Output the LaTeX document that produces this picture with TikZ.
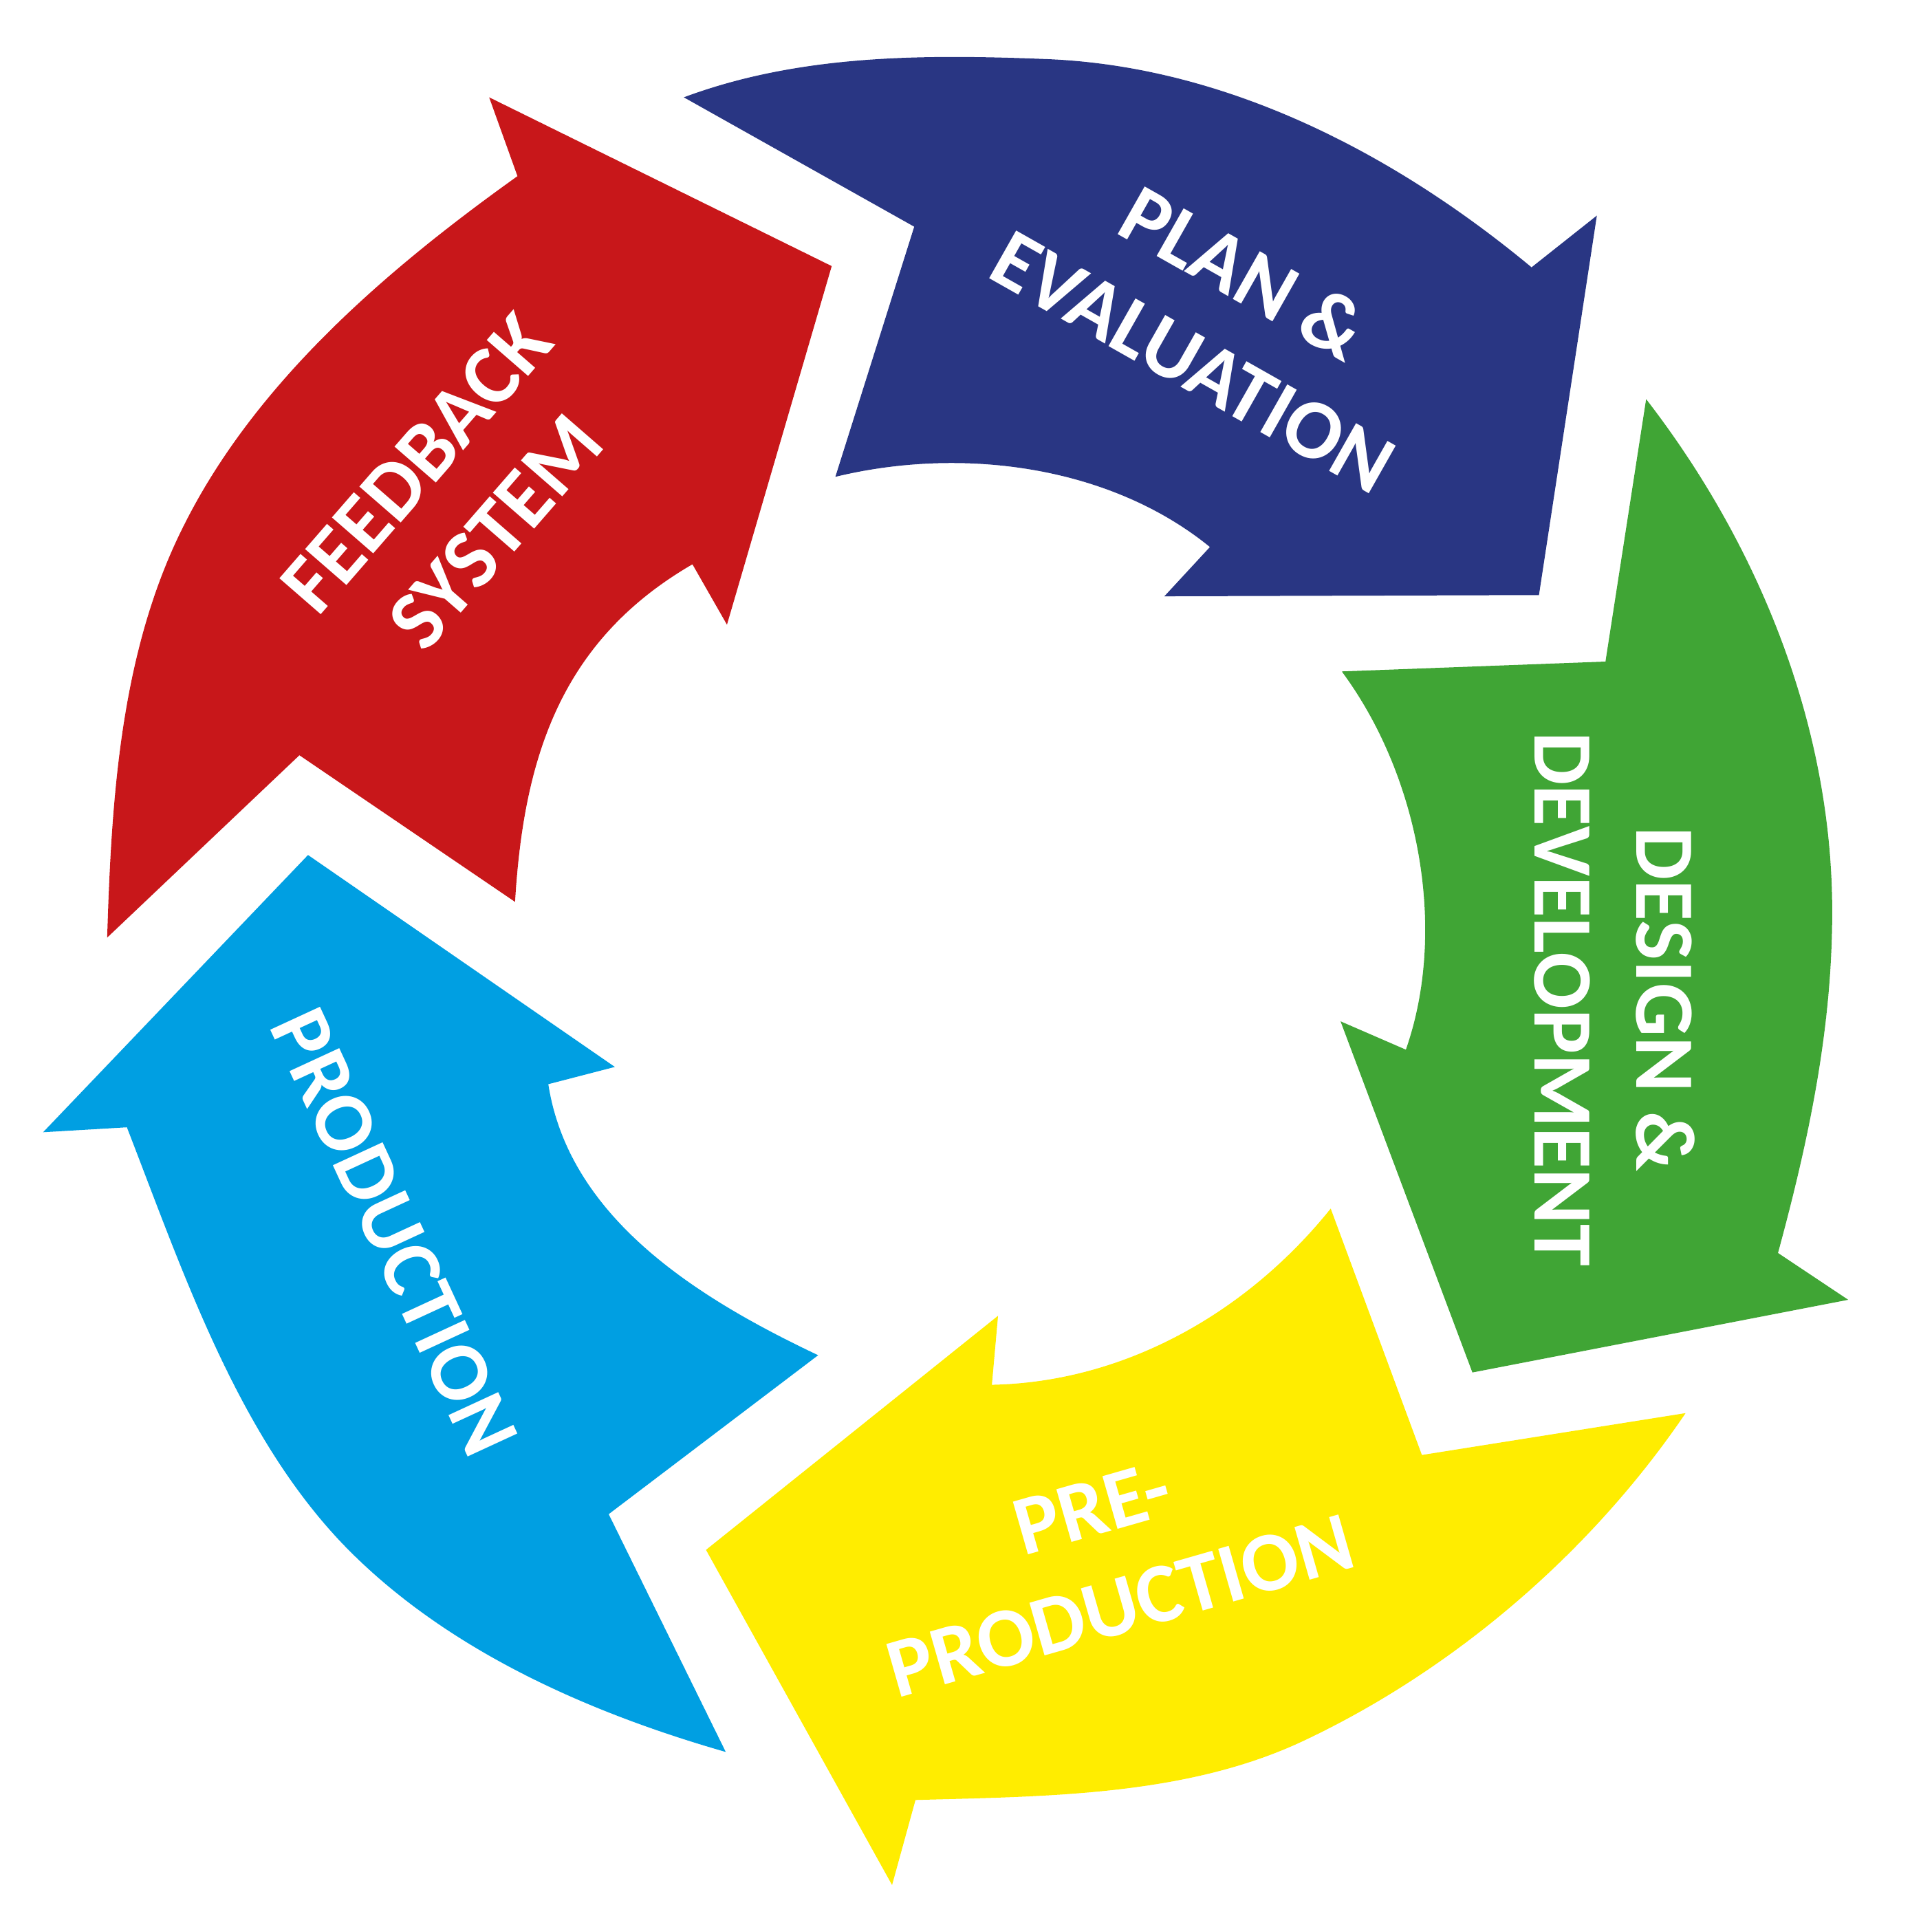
\documentclass[tikz,border=0pt]{standalone}
\usepackage{fontspec}
\setmainfont{Carlito}
\definecolor{cRed}{HTML}{C8171A}
\definecolor{cBlue}{HTML}{293683}
\definecolor{cGreen}{HTML}{40A535}
\definecolor{cYellow}{HTML}{FFED00}
\definecolor{cCyan}{HTML}{009FE2}
\begin{document}
\begin{tikzpicture}[x=0.01cm,y=-0.01cm,
  band/.style={line join=round},
  lbl/.style={text=white, align=center, inner sep=0pt,
    font=\fontsize{19.5}{23.5}\selectfont\bfseries}]
\useasboundingbox (0,0) rectangle (1568,1546);
% red arrow (feedback system)
\fill[cRed, band] (397,79) -- (675,216) -- (590,507) -- (562,458)
  .. controls (455,520) and (425,615) .. (418,732)
  -- (243,613) -- (87,761)
  .. controls (90.5,646) and (98,527) .. (150,425)
  .. controls (208.5,309) and (315,218) .. (420,143)
  -- cycle;
% blue arrow (plan & evaluation)
\fill[cBlue, band] (555,79) -- (742,184) -- (678,387)
  .. controls (781,362) and (901,378) .. (982,444)
  -- (945,484) -- (1249,483) -- (1296,175) -- (1243,217)
  .. controls (1131,124) and (995,54) .. (850,48)
  .. controls (750,44) and (649,44) .. (555,79)
  -- cycle;
% green arrow (design & development)
\fill[cGreen, band] (1336,324) -- (1303,537) -- (1089,545)
  .. controls (1152,630) and (1175,755) .. (1141,852)
  -- (1088,829) -- (1195,1114) -- (1500,1055) -- (1443,1017)
  .. controls (1468,925) and (1487,835) .. (1487,740)
  .. controls (1487,590) and (1428,443) .. (1336,324)
  -- cycle;
% yellow arrow (pre-production)
\fill[cYellow, band] (1368,1147) -- (1154,1181) -- (1080,981)
  .. controls (1010,1068) and (910,1122) .. (805,1124)
  -- (810,1068) -- (573,1258) -- (724,1530) -- (743,1461)
  .. controls (850,1458) and (964,1458) .. (1060,1412)
  .. controls (1182,1354) and (1292,1259) .. (1368,1147)
  -- cycle;
% cyan arrow (production)
\fill[cCyan, band] (250,694) -- (499,866) -- (445,880)
  .. controls (462,990) and (569,1055) .. (664,1100)
  -- (494,1229) -- (589,1422)
  .. controls (481,1391) and (371,1343) .. (290,1265)
  .. controls (196,1175) and (150,1036) .. (103,915)
  -- (35,919) -- cycle;
% labels
\node[lbl, rotate=-29.5] (plan) at (989,257) {PLAN \&\\EVALUATION};
\node[lbl, rotate=49, font=\fontsize{19.5}{24.2}\selectfont\bfseries] (feedback) at (370,404) {FEEDBACK\\SYSTEM};
\node[lbl, rotate=-90] (design) at (1310.5,811) {DESIGN \&\\DEVELOPMENT};
\node[lbl, rotate=-65.2] (production) at (320,1000) {PRODUCTION};
\node[lbl, rotate=16] (preproduction) at (898,1264) {PRE-\\PRODUCTION};
\end{tikzpicture}
\end{document}
